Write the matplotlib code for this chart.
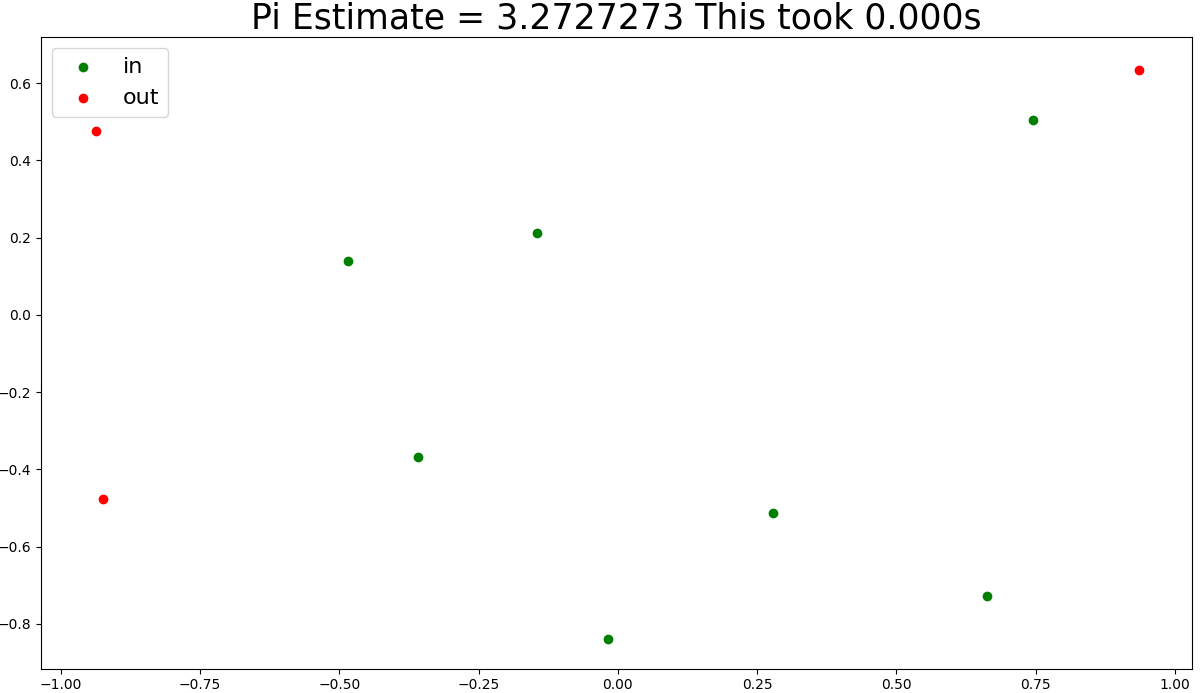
import matplotlib
matplotlib.use("Agg")
import matplotlib.pyplot as plt

# points inside the circle
in_x = [-0.484, -0.145, -0.358, 0.278, -0.018, 0.662, 0.745]
in_y = [0.140, 0.212, -0.368, -0.513, -0.839, -0.728, 0.505]

# points outside the circle
out_x = [-0.937, -0.925, 0.936]
out_y = [0.475, -0.476, 0.634]

pi_estimate = 3.2727273
elapsed = 0.000

fig = plt.figure(figsize=(12, 6.93), dpi=100)
plt.subplots_adjust(left=0.034, right=0.993, top=0.947, bottom=0.035)

plt.scatter(in_x, in_y, color="green", label="in")
plt.scatter(out_x, out_y, color="red", label="out")

# axis range
plt.xlim(-1.036, 1.030)
plt.ylim(-0.9165, 0.720)

plt.title("Pi Estimate = %.7f This took %.3fs" % (pi_estimate, elapsed), fontsize=25)
plt.legend(loc="upper left", fontsize=16)

plt.savefig("out.png")
